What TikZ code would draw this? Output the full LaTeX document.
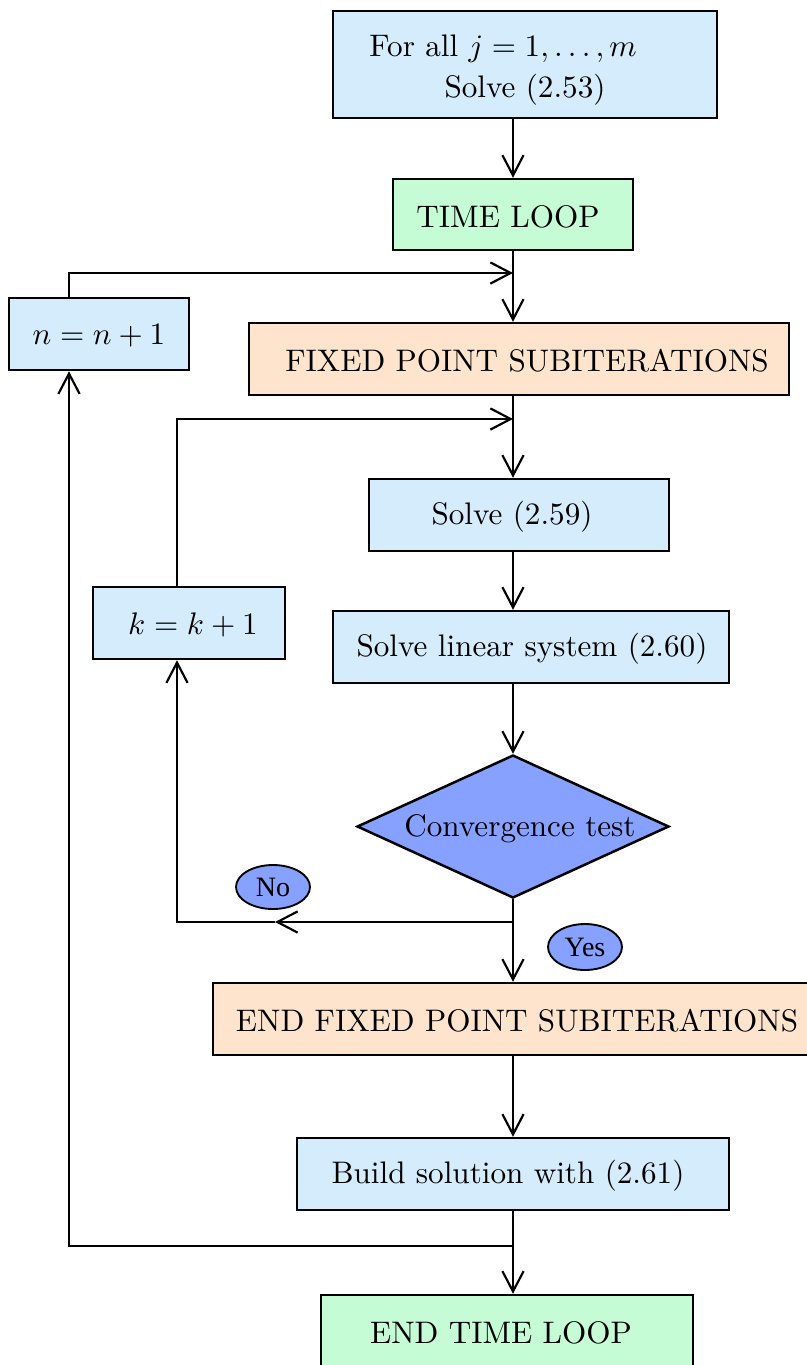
\documentclass[tikz,border=0pt]{standalone}
\usepackage{fontspec}
\newfontfamily\labelfont{Liberation Serif}
\usetikzlibrary{arrows.meta,shapes.geometric}
\definecolor{boxblue}{RGB}{213,236,252}
\definecolor{boxgreen}{RGB}{197,252,213}
\definecolor{boxpeach}{RGB}{254,227,205}
\definecolor{testblue}{RGB}{134,161,255}
% drawing unit
\newdimen\pxunit \pxunit=0.321pt
% place a line of text a little off-centre without changing its box
\newcommand\lowtext[2][-1pt]{\raisebox{#1}[\height][\depth]{#2}}
\newcommand\offtext[2]{\hspace*{#1\pxunit}\raisebox{-0.6pt}[\height][\depth]{#2}\hspace*{-#1\pxunit}}
\tikzset{
  sz/.style 2 args={minimum width={#1*0.321pt}, minimum height={#2*0.321pt}},
  proc/.style={draw, line width=0.8pt, inner sep=2pt, fill=boxblue},
  loopbox/.style={proc, fill=boxgreen},
  subbox/.style={proc, fill=boxpeach},
  test/.style={draw, diamond, aspect=2.18, line width=0.8pt, inner sep=0pt, fill=testblue},
  answer/.style={draw, ellipse, line width=0.6pt, inner sep=0pt, fill=testblue,
    font=\labelfont\fontsize{9}{10}\selectfont},
  link/.style={line width=0.7pt},
  arr/.style={link, -{Straight Barb[length=6.5pt,width=6.8pt,line width=0.7pt]}}
}
\begin{document}
\begin{tikzpicture}[x=0.321pt,y=-0.321pt]
\useasboundingbox (0,0) rectangle (807,1365);

% process blocks
\node[proc, sz={384}{107}, align=center] (init) at (525,64.5)
  {\lowtext[-1.75pt]{For all $j = 1,\ldots,m$\hspace*{14pt}}\\[1pt]
   \lowtext[-1.75pt]{Solve (2.53)}};
\node[loopbox, sz={240}{71}] (time) at (513,214.5) {\offtext{-5}{TIME LOOP}};
\node[proc, sz={180}{72}] (ninc) at (99,334) {\offtext{0}{$n = n + 1$}};
\node[subbox, sz={540}{72}] (fixed) at (519,359) {\offtext{8}{FIXED POINT SUBITERATIONS}};
\node[proc, sz={300}{72}] (solveA) at (519,515) {\offtext{-7}{Solve (2.59)}};
\node[proc, sz={192}{72}] (kinc) at (189,623) {\offtext{4}{$k = k + 1$}};
\node[proc, sz={396}{72}] (linsys) at (531,647) {\offtext{1}{Solve linear system (2.60)}};
\node[test, sz={312}{143}] (conv) at (513,826.5) {\offtext{7}{Convergence test}};
\node[subbox, sz={608}{72}] (endfixed) at (517,1019) {\offtext{0}{END FIXED POINT SUBITERATIONS}};
\node[proc, sz={432}{72}] (build) at (513,1174) {\offtext{-5}{Build solution with (2.61)}};
\node[loopbox, sz={372}{72}] (endtime) at (507,1331) {\offtext{-6}{END TIME LOOP}};

% branch labels
\node[answer, sz={74}{44}] (no) at (273,887) {No};
\node[answer, sz={74}{46}] (yes) at (585,947) {Yes};

% reference lines and junctions
\coordinate (spine) at (513,0);
\coordinate (nx) at (69,0);
\coordinate (kx) at (177,0);
\coordinate (jn) at (513,273);
\coordinate (jk) at (513,419);
\coordinate (jno) at (513,922);
\coordinate (noarr) at (275,922);
\coordinate (jt) at (513,1246);

% main flow
\draw[arr] (spine |- init.south) -- (time.north);
\draw[arr] (time.south) -- (spine |- fixed.north);
\draw[arr] (spine |- fixed.south) -- (spine |- solveA.north);
\draw[arr] (spine |- solveA.south) -- (spine |- linsys.north);
\draw[arr] (spine |- linsys.south) -- (conv.north);
\draw[arr] (conv.south) -- (spine |- endfixed.north);
\draw[arr] (spine |- endfixed.south) -- (build.north);
\draw[arr] (build.south) -- (spine |- endtime.north);

% subiteration loop
\draw[arr] (jno) -- (noarr);
\draw[arr] (noarr) -- (kx |- jno) -- (kx |- kinc.south);
\draw[arr] (kx |- kinc.north) |- (jk);

% time loop
\draw[arr] (jt) -- (nx |- jt) -- (nx |- ninc.south);
\draw[arr] (nx |- ninc.north) |- (jn);
\end{tikzpicture}
\end{document}
